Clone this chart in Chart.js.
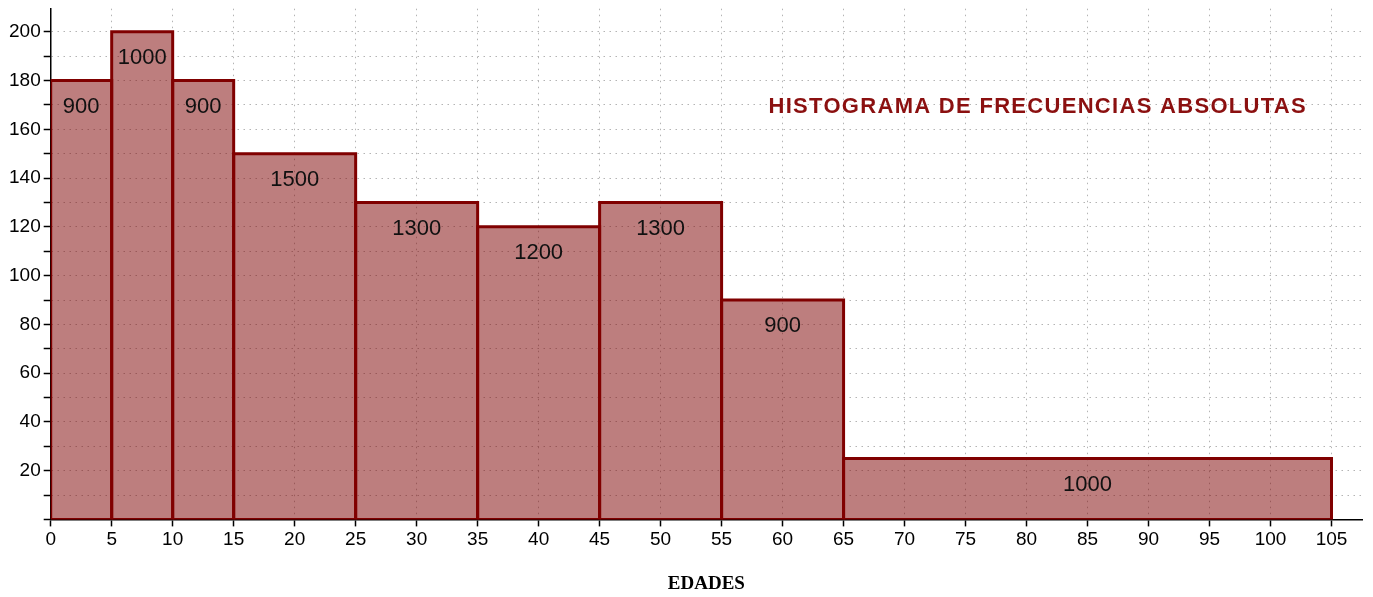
<!DOCTYPE html>
<html>
<head>
<meta charset="utf-8">
<script src="https://cdn.jsdelivr.net/npm/chart.js@4.4.1/dist/chart.umd.min.js"></script>
<style>
  body { margin: 0; background: #fff; }
  #wrap { width: 1373px; height: 597px; }
</style>
</head>
<body>
<div id="wrap"><canvas id="histo"></canvas></div>
<script>
// Class limits (edades) and bar heights (frecuencia / amplitud)
const binEdges = [0, 5, 10, 15, 25, 35, 45, 55, 65, 105];
const heights = [180, 200, 180, 150, 130, 120, 130, 90, 25];
const counts = ['900', '1000', '900', '1500', '1300', '1200', '1300', '900', '1000'];
const chartTitle = 'HISTOGRAMA DE FRECUENCIAS ABSOLUTAS';
const xTitle = 'EDADES';

const barFill = 'rgba(128, 8, 8, 0.52)';
const barBorder = '#800000';

// one closed rectangle per class
const datasets = heights.map(function(h, i) {
  const x0 = binEdges[i], x1 = binEdges[i + 1];
  return {
    data: [{x: x0, y: 0}, {x: x0, y: h}, {x: x1, y: h}, {x: x1, y: 0}, {x: x0, y: 0}],
    borderColor: barBorder,
    backgroundColor: barFill,
    borderWidth: 3,
    fill: 'shape',
    pointRadius: 0,
    tension: 0
  };
});

// bar labels + title text inside the plot
const labelPlugin = {
  id: 'labelPlugin',
  afterDatasetsDraw(chart) {
    const ctx = chart.ctx;
    const xs = chart.scales.x, ys = chart.scales.y;
    ctx.save();
    ctx.fillStyle = '#111';
    ctx.font = '22px "Liberation Sans", Arial, sans-serif';
    ctx.textAlign = 'center';
    ctx.textBaseline = 'middle';
    heights.forEach(function(h, i) {
      const mid = (binEdges[i] + binEdges[i + 1]) / 2;
      ctx.fillText(counts[i], xs.getPixelForValue(mid), ys.getPixelForValue(h) + 26);
    });
    ctx.fillStyle = '#8b1010';
    ctx.font = 'bold 22px "Liberation Sans", Arial, sans-serif';
    ctx.letterSpacing = '1.3px';
    ctx.textAlign = 'right';
    ctx.fillText(chartTitle, chart.chartArea.right - 55, 107);
    ctx.restore();
  }
};

const dotted = {
  display: true,
  color: '#b4b4b4',
  lineWidth: 1,
  drawTicks: true,
  tickLength: 7,
  tickColor: '#000',
  tickWidth: 1.5,
  tickBorderDash: []
};
const axisLine = { color: '#000', width: 1.5, dash: [1.5, 4.5] };

new Chart(document.getElementById('histo').getContext('2d'), {
  type: 'line',
  data: { datasets: datasets },
  options: {
    responsive: true,
    maintainAspectRatio: false,
    animation: false,
    layout: { padding: { top: 0, right: 11, left: 6, bottom: 2 } },
    plugins: {
      legend: { display: false },
      tooltip: { enabled: false }
    },
    scales: {
      x: {
        type: 'linear',
        min: 0,
        max: 107.5,
        ticks: {
          stepSize: 5,
          includeBounds: false,
          color: '#000',
          padding: 2,
          maxRotation: 0,
          autoSkip: false,
          font: { family: '"Liberation Sans", Arial, sans-serif', size: 19 }
        },
        grid: dotted,
        border: axisLine,
        title: {
          display: true,
          text: xTitle,
          color: '#000',
          padding: { top: 19, bottom: 0 },
          font: { family: '"Liberation Serif", "Times New Roman", serif', size: 19, weight: 'bold' }
        }
      },
      y: {
        type: 'linear',
        min: 0,
        max: 209.5,
        ticks: {
          stepSize: 10,
          includeBounds: false,
          color: '#000',
          padding: 3,
          autoSkip: false,
          font: { family: '"Liberation Sans", Arial, sans-serif', size: 19, lineHeight: 0.6 },
          callback: function(v) { return (v > 0 && v % 20 === 0) ? v : ''; }
        },
        grid: dotted,
        border: axisLine
      }
    }
  },
  plugins: [labelPlugin]
});
</script>
</body>
</html>
